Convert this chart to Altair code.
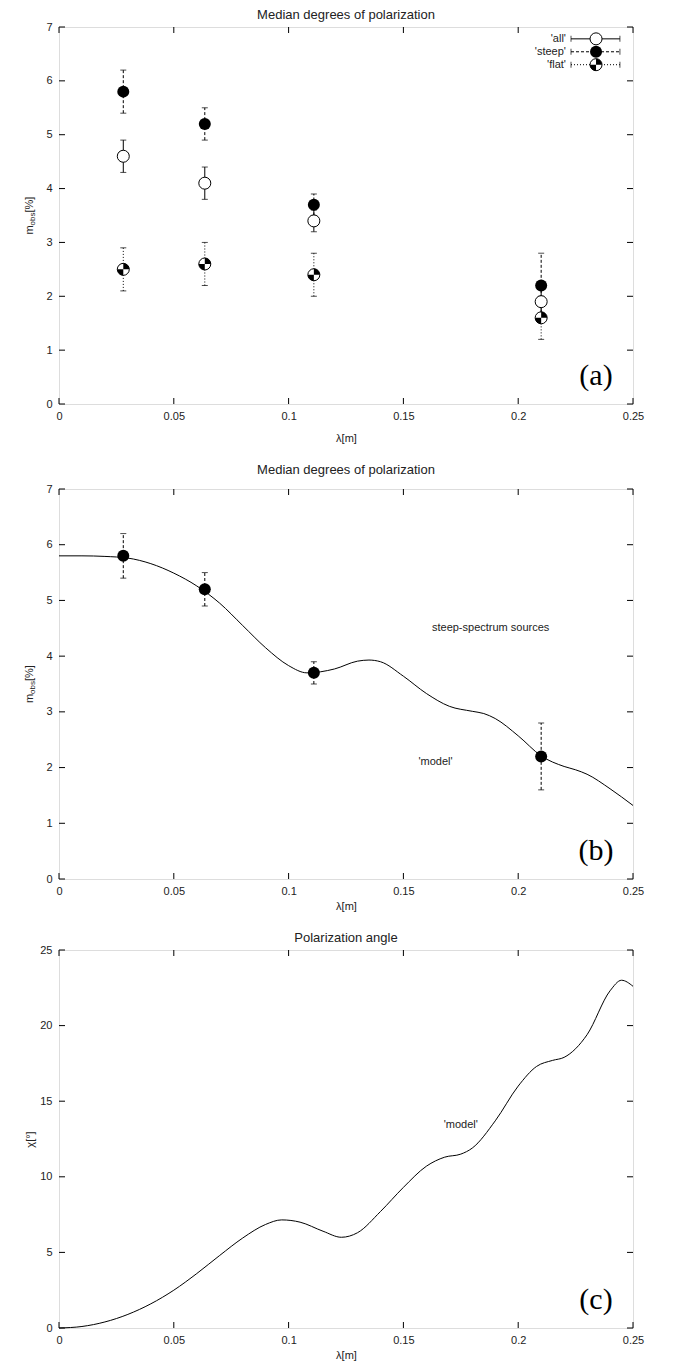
import altair as alt
import pandas as pd

# ---------------- data ----------------
lam = [0.028, 0.0635, 0.111, 0.21]
all_m = [4.6, 4.1, 3.4, 1.9]
all_lo = [4.3, 3.8, 3.2, 1.6]
all_hi = [4.9, 4.4, 3.6, 2.2]
steep_m = [5.8, 5.2, 3.7, 2.2]
steep_lo = [5.4, 4.9, 3.5, 1.6]
steep_hi = [6.2, 5.5, 3.9, 2.8]
flat_m = [2.5, 2.6, 2.4, 1.6]
flat_lo = [2.1, 2.2, 2.0, 1.2]
flat_hi = [2.9, 3.0, 2.8, 2.0]

model_lam = [0.0, 0.01, 0.02, 0.03, 0.04, 0.05, 0.06, 0.07, 0.08, 0.09, 0.10,
             0.108, 0.12, 0.13, 0.135, 0.14, 0.15, 0.16, 0.17, 0.18, 0.185,
             0.19, 0.20, 0.21, 0.22, 0.225, 0.23, 0.24, 0.25]
model_m = [5.80, 5.80, 5.79, 5.76, 5.66, 5.49, 5.26, 4.95, 4.55, 4.15, 3.83,
           3.70, 3.77, 3.91, 3.93, 3.90, 3.64, 3.33, 3.10, 3.01, 2.97,
           2.88, 2.57, 2.21, 2.02, 1.96, 1.88, 1.62, 1.32]

chi_lam = [0.0, 0.01, 0.02, 0.03, 0.04, 0.05, 0.06, 0.07, 0.08, 0.09, 0.097,
           0.105, 0.115, 0.123, 0.13, 0.14, 0.15, 0.16, 0.168, 0.175, 0.18,
           0.19, 0.20, 0.208, 0.215, 0.22, 0.23, 0.24, 0.245, 0.25]
chi_val = [0.0, 0.1, 0.4, 0.9, 1.6, 2.5, 3.6, 4.8, 5.95, 6.85, 7.15,
           7.0, 6.4, 6.0, 6.3, 7.7, 9.3, 10.7, 11.3, 11.5, 11.9,
           13.7, 16.0, 17.3, 17.7, 17.9, 19.4, 22.3, 23.0, 22.6]

x_ticks = [0, 0.05, 0.1, 0.15, 0.2, 0.25]
m_ticks = [0, 1, 2, 3, 4, 5, 6, 7]
chi_ticks = [0, 5, 10, 15, 20, 25]

legend_labels = ["'all'", "'steep'", "'flat'"]
legend_y = [6.78, 6.54, 6.30]
legend_x0, legend_xm, legend_x1, legend_xt = 0.2230, 0.2339, 0.2443, 0.2208

panel_titles = ["Median degrees of polarization", "Median degrees of polarization", "Polarization angle"]
panel_tags = ["(a)", "(b)", "(c)"]
y_title_parts = ["m", "obs", "[%]"]
chi_title = "χ[°]"
x_title = "λ[m]"
notes_b = pd.DataFrame({"x": [0.188, 0.164], "y": [4.5, 2.1],
                        "t": ["steep-spectrum sources", "'model'"]})
notes_c = pd.DataFrame({"x": [0.175], "y": [13.4], "t": ["'model'"]})

# ---------------- style ----------------
W = 574
HA, HB, HC = 377, 390, 378
FONT = "Liberation Sans"
INK = "#222222"
TICK = 6
XS = alt.Scale(domain=[0, 0.25], nice=False, zero=False)
FLAT_SHAPE = "M0,0L0,-1A1,1 0 0 1 1,0Z M0,0L0,1A1,1 0 0 1 -1,0Z"
MSIZE = 144


def x_axis(tp=4):
    return alt.Axis(values=x_ticks, format="~g", title=x_title, ticks=False, domain=False,
                    grid=False, labelPadding=6, titlePadding=tp, labelFontSize=11,
                    titleFontSize=11, labelFont=FONT, titleFont=FONT, labelColor=INK,
                    titleColor=INK, titleFontWeight="normal", labelFlush=False)


def y_axis(vals):
    return alt.Axis(values=vals, format="d", title=None, ticks=False, domain=False,
                    grid=False, labelPadding=7, labelFontSize=11, labelFont=FONT,
                    labelColor=INK, labelFlush=False)


def make_X(tp):
    def X(f):
        return alt.X(f"{f}:Q", scale=XS, axis=x_axis(tp))
    return X


def Y(f, ys, vals):
    return alt.Y(f"{f}:Q", scale=ys, axis=y_axis(vals))


def frame_ticks(X, ys, yvals, H):
    xt = pd.DataFrame({"x": x_ticks})
    yt = pd.DataFrame({"y": yvals})
    base_x = alt.Chart(xt).mark_rule(color="black", strokeWidth=1)
    base_y = alt.Chart(yt).mark_rule(color="black", strokeWidth=1)
    return [
        base_x.encode(x=X("x"), y=alt.value(H), y2=alt.value(H - TICK)),
        base_x.encode(x=X("x"), y=alt.value(0), y2=alt.value(TICK)),
        base_y.encode(y=Y("y", ys, yvals), x=alt.value(0), x2=alt.value(TICK)),
        base_y.encode(y=Y("y", ys, yvals), x=alt.value(W - TICK), x2=alt.value(W)),
    ]


def tag(label, H):
    return alt.Chart(pd.DataFrame({"t": [label]})).mark_text(
        font="Liberation Serif", fontSize=30, color="black", align="center", baseline="middle"
    ).encode(x=alt.value(W - 37), y=alt.value(H - 28), text="t:N")


def m_title(H):
    df = pd.DataFrame({"t": y_title_parts, "dx": [0, 9, 22], "dy": [0, 3, 0], "fs": [11, 8, 11]})
    layers = []
    for i in range(3):
        layers.append(alt.Chart(df.iloc[[i]]).mark_text(
            font=FONT, fontSize=int(df.fs[i]), color=INK, angle=270, align="left",
            baseline="middle", dx=int(df.dx[i]), dy=int(df.dy[i])
        ).encode(x=alt.value(-29), y=alt.value(H / 2 + 19), text="t:N"))
    return layers


def ptitle(t, off):
    return alt.TitleParams(t, fontSize=13, fontWeight="normal", font=FONT, color=INK,
                           offset=off, anchor="middle")


ysm = alt.Scale(domain=[0, 7], nice=False, zero=False)
ysc = alt.Scale(domain=[0, 25], nice=False, zero=False)

# ---------------- panel (a) ----------------
X = make_X(11)
series = [
    ("all", all_m, all_lo, all_hi, []),
    ("steep", steep_m, steep_lo, steep_hi, [3, 2]),
    ("flat", flat_m, flat_lo, flat_hi, [1, 2]),
]

layers_a = []
for name, mv, lo, hi, dash in series:
    df = pd.DataFrame({"x": lam, "y": mv, "lo": lo, "hi": hi})
    rk = dict(color="black", strokeWidth=1)
    if dash:
        rk["strokeDash"] = dash
    layers_a.append(alt.Chart(df).mark_rule(**rk).encode(x=X("x"), y=Y("lo", ysm, m_ticks), y2="hi:Q"))
    layers_a.append(alt.Chart(df).mark_tick(orient="horizontal", size=6, thickness=1, color="black")
                    .encode(x=X("x"), y=Y("lo", ysm, m_ticks)))
    layers_a.append(alt.Chart(df).mark_tick(orient="horizontal", size=6, thickness=1, color="black")
                    .encode(x=X("x"), y=Y("hi", ysm, m_ticks)))

for name, mv, lo, hi, dash in series:
    df = pd.DataFrame({"x": lam, "y": mv})
    if name == "steep":
        layers_a.append(alt.Chart(df).mark_point(shape="circle", filled=True, color="black", size=MSIZE, opacity=1)
                        .encode(x=X("x"), y=Y("y", ysm, m_ticks)))
    else:
        layers_a.append(alt.Chart(df).mark_point(shape="circle", filled=True, fill="white", stroke="black",
                                                 strokeWidth=1, size=MSIZE, opacity=1)
                        .encode(x=X("x"), y=Y("y", ysm, m_ticks)))
        if name == "flat":
            layers_a.append(alt.Chart(df).mark_point(shape=FLAT_SHAPE, filled=True, color="black", size=MSIZE,
                                                     opacity=1, strokeWidth=0)
                            .encode(x=X("x"), y=Y("y", ysm, m_ticks)))

# legend
leg = pd.DataFrame({"t": legend_labels, "y": legend_y,
                    "x0": [legend_x0] * 3, "x1": [legend_x1] * 3,
                    "xm": [legend_xm] * 3, "xt": [legend_xt] * 3})
layers_a.append(alt.Chart(leg).mark_text(font=FONT, fontSize=11, color=INK, align="right", baseline="middle")
                .encode(x=X("xt"), y=Y("y", ysm, m_ticks), text="t:N"))
for i, (name, mv, lo, hi, dash) in enumerate(series):
    row = leg.iloc[[i]]
    rk = dict(color="black", strokeWidth=1)
    if dash:
        rk["strokeDash"] = dash
    layers_a.append(alt.Chart(row).mark_rule(**rk).encode(x=X("x0"), x2="x1:Q", y=Y("y", ysm, m_ticks)))
    for c in ["x0", "x1"]:
        layers_a.append(alt.Chart(row).mark_tick(orient="vertical", size=6, thickness=1, color="black")
                        .encode(x=X(c), y=Y("y", ysm, m_ticks)))
    if name == "steep":
        layers_a.append(alt.Chart(row).mark_point(shape="circle", filled=True, color="black", size=MSIZE, opacity=1)
                        .encode(x=X("xm"), y=Y("y", ysm, m_ticks)))
    else:
        layers_a.append(alt.Chart(row).mark_point(shape="circle", filled=True, fill="white", stroke="black",
                                                  strokeWidth=1, size=MSIZE, opacity=1)
                        .encode(x=X("xm"), y=Y("y", ysm, m_ticks)))
        if name == "flat":
            layers_a.append(alt.Chart(row).mark_point(shape=FLAT_SHAPE, filled=True, color="black", size=MSIZE,
                                                      opacity=1, strokeWidth=0)
                            .encode(x=X("xm"), y=Y("y", ysm, m_ticks)))

layers_a += frame_ticks(X, ysm, m_ticks, HA)
layers_a += m_title(HA)
layers_a.append(tag(panel_tags[0], HA))
panel_a = alt.layer(*layers_a).properties(width=W, height=HA, title=ptitle(panel_titles[0], -1))

# ---------------- panel (b) ----------------
X = make_X(4)
layers_b = []
dfm = pd.DataFrame({"x": model_lam, "y": model_m})
layers_b.append(alt.Chart(dfm).mark_line(color="black", strokeWidth=1, interpolate="monotone")
                .encode(x=X("x"), y=Y("y", ysm, m_ticks)))
dfs = pd.DataFrame({"x": lam, "y": steep_m, "lo": steep_lo, "hi": steep_hi})
layers_b.append(alt.Chart(dfs).mark_rule(color="black", strokeWidth=1, strokeDash=[3, 2])
                .encode(x=X("x"), y=Y("lo", ysm, m_ticks), y2="hi:Q"))
for c in ["lo", "hi"]:
    layers_b.append(alt.Chart(dfs).mark_tick(orient="horizontal", size=6, thickness=1, color="black")
                    .encode(x=X("x"), y=Y(c, ysm, m_ticks)))
layers_b.append(alt.Chart(dfs).mark_point(shape="circle", filled=True, color="black", size=MSIZE, opacity=1)
                .encode(x=X("x"), y=Y("y", ysm, m_ticks)))
layers_b.append(alt.Chart(notes_b).mark_text(font=FONT, fontSize=11, color=INK, align="center", baseline="middle")
                .encode(x=X("x"), y=Y("y", ysm, m_ticks), text="t:N"))
layers_b += frame_ticks(X, ysm, m_ticks, HB)
layers_b += m_title(HB)
layers_b.append(tag(panel_tags[1], HB))
panel_b = alt.layer(*layers_b).properties(width=W, height=HB, title=ptitle(panel_titles[1], 6))

# ---------------- panel (c) ----------------
X = make_X(4)
layers_c = []
dfc = pd.DataFrame({"x": chi_lam, "y": chi_val})
yax_c = alt.Axis(values=chi_ticks, format="d", title=chi_title, ticks=False, domain=False, grid=False,
                 labelPadding=7, labelFontSize=11, labelFont=FONT, labelColor=INK, labelFlush=False,
                 titleFont=FONT, titleFontSize=11, titleFontWeight="normal", titleColor=INK, titlePadding=4)
layers_c.append(alt.Chart(dfc).mark_line(color="black", strokeWidth=1, interpolate="monotone")
                .encode(x=X("x"), y=alt.Y("y:Q", scale=ysc, axis=yax_c)))
layers_c.append(alt.Chart(notes_c).mark_text(font=FONT, fontSize=11, color=INK, align="center", baseline="middle")
                .encode(x=X("x"), y=alt.Y("y:Q", scale=ysc, axis=yax_c), text="t:N"))
xt = pd.DataFrame({"x": x_ticks})
yt = pd.DataFrame({"y": chi_ticks})
layers_c += [
    alt.Chart(xt).mark_rule(color="black").encode(x=X("x"), y=alt.value(HC), y2=alt.value(HC - TICK)),
    alt.Chart(xt).mark_rule(color="black").encode(x=X("x"), y=alt.value(0), y2=alt.value(TICK)),
    alt.Chart(yt).mark_rule(color="black").encode(y=alt.Y("y:Q", scale=ysc, axis=yax_c), x=alt.value(0), x2=alt.value(TICK)),
    alt.Chart(yt).mark_rule(color="black").encode(y=alt.Y("y:Q", scale=ysc, axis=yax_c), x=alt.value(W - TICK), x2=alt.value(W)),
]
layers_c.append(tag(panel_tags[2], HC))
panel_c = alt.layer(*layers_c).properties(width=W, height=HC, title=ptitle(panel_titles[2], -1))

chart = alt.vconcat(panel_a, panel_b, panel_c, spacing=19).properties(
    padding={"left": 15, "top": 0, "right": 5, "bottom": 2}
).configure_view(stroke="#333333", strokeWidth=1).configure(background="white")

chart.save("out.html", embed_options={"renderer": "svg", "actions": False})
